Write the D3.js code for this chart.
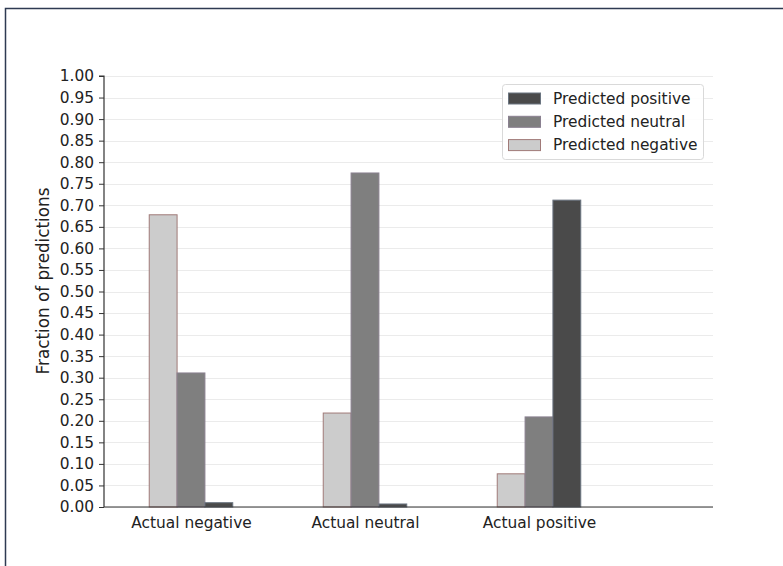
<!DOCTYPE html>
<html>
<head>
<meta charset="utf-8">
<script src="https://cdn.jsdelivr.net/npm/d3@7"></script>
<style>
  html, body { margin: 0; padding: 0; background: #fff; }
  svg { display: block; font-family: "DejaVu Sans", sans-serif; }
</style>
</head>
<body>
<svg id="chart" width="783" height="566"></svg>
<script>
const categories = ["Actual negative", "Actual neutral", "Actual positive"];
const seriesNames = ["Predicted negative", "Predicted neutral", "Predicted positive"];
const predictedNegative = [0.678, 0.218, 0.077];
const predictedNeutral = [0.311, 0.775, 0.209];
const predictedPositive = [0.010, 0.007, 0.712];
const yTicks = d3.range(0, 21).map(i => +(i * 0.05).toFixed(2));
const legendOrder = ["Predicted positive", "Predicted neutral", "Predicted negative"];

(function () {
const fills = { "Predicted negative": "#cccccc", "Predicted neutral": "#7f7f7f", "Predicted positive": "#4a4a4a" };
const strokes = { "Predicted negative": "#a07a78", "Predicted neutral": "#8a8090", "Predicted positive": "#6a7480" };
const seriesValues = { "Predicted negative": predictedNegative, "Predicted neutral": predictedNeutral, "Predicted positive": predictedPositive };
const FS = 15.4;

const svg = d3.select("#chart");
// outer frame
svg.append("rect").attr("x", 5.5).attr("y", 8.5).attr("width", 820).attr("height", 620)
  .attr("fill", "none").attr("stroke", "#2e3a52").attr("stroke-width", 1.5);

const pLeft = 104, pRight = 713, pTop = 76, pBottom = 507;
const x = d3.scaleLinear().domain([-0.5, 3.0]).range([pLeft, pRight]);
const y = d3.scaleLinear().domain([0, 1]).range([pBottom, pTop]);
const barW = 0.16;

// gridlines
svg.append("g").selectAll("line").data(yTicks).join("line")
  .attr("x1", pLeft).attr("x2", pRight)
  .attr("y1", d => Math.round(y(d)) + 0.5).attr("y2", d => Math.round(y(d)) + 0.5)
  .attr("stroke", "#ebebeb").attr("stroke-width", 1);

// bars
const offsets = { "Predicted negative": -1, "Predicted neutral": 0, "Predicted positive": 1 };
seriesNames.forEach(s => {
  svg.append("g").selectAll("rect").data(seriesValues[s]).join("rect")
    .attr("x", (d, i) => x(i + offsets[s] * barW - barW / 2))
    .attr("width", x(barW) - x(0))
    .attr("y", d => y(d))
    .attr("height", d => y(0) - y(d))
    .attr("fill", fills[s])
    .attr("stroke", strokes[s]).attr("stroke-width", 1);
});

// y axis
const yAxis = d3.axisLeft(y).tickValues(yTicks).tickFormat(d3.format(".2f")).tickSize(5).tickPadding(5);
const gy = svg.append("g").attr("transform", `translate(${pLeft},0)`).call(yAxis);
gy.select(".domain").attr("stroke", "#333").attr("stroke-width", 1.2).attr("d", `M-5,${y(1)}H0V${y(0)}`);
gy.selectAll(".tick line").attr("stroke", "#333");
gy.selectAll(".tick text").attr("font-size", FS).attr("fill", "#222").attr("font-family", "DejaVu Sans, sans-serif");

// x axis
const xAxis = d3.axisBottom(x).tickValues([0, 1, 2]).tickFormat(i => categories[i]).tickSize(0).tickPadding(10);
const gx = svg.append("g").attr("transform", `translate(0,${pBottom})`).call(xAxis);
gx.select(".domain").attr("stroke", "#333").attr("stroke-width", 1.2).attr("d", `M${pLeft},0H${pRight}`);
gx.selectAll(".tick text").attr("font-size", FS).attr("fill", "#222").attr("font-family", "DejaVu Sans, sans-serif");

// y label
svg.append("text").attr("transform", `translate(48.5,281) rotate(-90)`)
  .attr("text-anchor", "middle").attr("font-size", 16.8).attr("fill", "#222")
  .text("Fraction of predictions");

// legend
const lg = svg.append("g");
lg.append("rect").attr("x", 502.5).attr("y", 84.5).attr("width", 201).attr("height", 75).attr("rx", 3)
  .attr("fill", "#fff").attr("fill-opacity", 0.9).attr("stroke", "#d9d9d9");
legendOrder.forEach((s, i) => {
  const cy = 98 + i * 23.3;
  lg.append("rect").attr("x", 508.5).attr("y", cy - 5).attr("width", 32).attr("height", 11)
    .attr("fill", fills[s]).attr("stroke", strokes[s]);
  lg.append("text").attr("x", 553).attr("y", cy + 5.5).attr("font-size", FS).attr("fill", "#222").text(s);
});
})();
</script>
</body>
</html>
